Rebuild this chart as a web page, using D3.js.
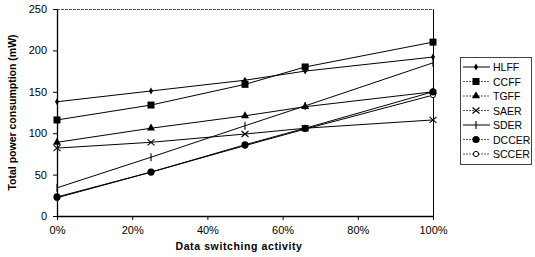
<!DOCTYPE html>
<html lang="en">
<head>
<meta charset="UTF-8">
<title>Power consumption</title>
<script src="https://cdn.jsdelivr.net/npm/d3@7"></script>
<style>
  body { margin: 0; background: #fff; }
  text { font-family: Arial, "Liberation Sans", sans-serif; }
</style>
</head>
<body>
<script>
// data switching activity (%)
var activity = [0, 25, 50, 66, 100];
var seriesNames = ["HLFF", "CCFF", "TGFF", "SAER", "SDER", "DCCER", "SCCER"];
var hlff  = [138, 151, 164, 175, 192];
var ccff  = [116, 134, 159, 180, 210];
var tgff  = [89, 106, 121, 132, 150];
var saer  = [82, 89, 99, 106, 116];
var sder  = [34, 71, 109, 133, 185];
var dccer = [23, 53, 86, 106, 150];
var sccer = [22, 53, 85, 105, 146];
var xTicks = [0, 20, 40, 60, 80, 100];
var yTicks = [0, 50, 100, 150, 200, 250];

var allValues = [hlff, ccff, tgff, saer, sder, dccer, sccer];
var markers = ["diamond", "square", "triangle", "x", "plus", "dot", "circle"];

var width = 535, height = 257;
var plotLeft = 57, plotRight = 433, plotTop = 9, plotBottom = 216;

var svg = d3.select("body").append("svg")
    .attr("width", width)
    .attr("height", height);

var x = d3.scaleLinear().domain([0, 100]).range([plotLeft, plotRight]);
var y = d3.scaleLinear().domain([0, 250]).range([plotBottom, plotTop]);

// frame: dotted top, solid right
svg.append("line")
    .attr("x1", plotLeft).attr("x2", plotRight).attr("y1", plotTop + 0.5).attr("y2", plotTop + 0.5)
    .attr("stroke", "#555").attr("stroke-dasharray", "3,1");
svg.append("line")
    .attr("x1", plotRight + 0.5).attr("x2", plotRight + 0.5).attr("y1", plotTop).attr("y2", plotBottom)
    .attr("stroke", "#000");

var xAxis = d3.axisBottom(x).tickValues(xTicks)
    .tickFormat(function (d) { return d + "%"; })
    .tickSize(4).tickPadding(6);
var yAxis = d3.axisLeft(y).tickValues(yTicks).tickSize(4).tickPadding(6);

var gx = svg.append("g")
    .attr("transform", "translate(0," + plotBottom + ")")
    .call(xAxis);
var gy = svg.append("g")
    .attr("transform", "translate(" + plotLeft + ",0)")
    .call(yAxis);
[gx, gy].forEach(function (g) {
  g.select(".domain").attr("stroke", "#000").attr("stroke-width", 1.3);
  g.selectAll(".tick line").attr("stroke", "#000");
  g.selectAll("text").attr("font-size", 11).attr("fill", "#000")
      .attr("font-family", "Arial, 'Liberation Sans', sans-serif");
});
gy.select(".domain").attr("d", "M0.5," + (plotBottom + 0.5) + "V" + (plotTop + 0.5));
gx.select(".domain").attr("d", "M" + (plotLeft + 0.5) + ",0.5H" + (plotRight + 0.5));

svg.append("text")
    .attr("x", (plotLeft + plotRight) / 2 - 6).attr("y", 250)
    .attr("text-anchor", "middle")
    .attr("font-size", 10.5).attr("font-weight", "bold")
    .attr("letter-spacing", 0.6)
    .text("Data switching activity");

svg.append("text")
    .attr("transform", "translate(16," + ((plotTop + plotBottom) / 2) + ") rotate(-90)")
    .attr("text-anchor", "middle")
    .attr("font-size", 10.5).attr("font-weight", "bold")
    .text("Total power consumption (mW)");

var line = d3.line()
    .x(function (d, i) { return x(activity[i]); })
    .y(function (d) { return y(d); });

function drawMarker(g, kind, cx, cy) {
  if (kind === "diamond") {
    g.append("path").attr("d", d3.symbol(d3.symbolDiamond, 14)())
      .attr("transform", "translate(" + cx + "," + cy + ")").attr("fill", "#000");
  } else if (kind === "square") {
    g.append("rect").attr("x", cx - 3.5).attr("y", cy - 3.5)
      .attr("width", 7).attr("height", 7).attr("fill", "#000");
  } else if (kind === "triangle") {
    g.append("path").attr("d", d3.symbol(d3.symbolTriangle, 28)())
      .attr("transform", "translate(" + cx + "," + cy + ")").attr("fill", "#000");
  } else if (kind === "x") {
    g.append("path").attr("d", "M" + (cx - 3.5) + "," + (cy - 3) + "L" + (cx + 3.5) + "," + (cy + 3)
        + "M" + (cx - 3.5) + "," + (cy + 3) + "L" + (cx + 3.5) + "," + (cy - 3))
      .attr("stroke", "#000").attr("stroke-width", 1.1);
  } else if (kind === "plus") {
    g.append("path").attr("d", "M" + cx + "," + (cy - 4) + "V" + (cy + 4))
      .attr("stroke", "#000").attr("stroke-width", 1.1);
  } else if (kind === "dot") {
    g.append("circle").attr("cx", cx).attr("cy", cy).attr("r", 3.6).attr("fill", "#000");
  } else if (kind === "circle") {
    g.append("circle").attr("cx", cx).attr("cy", cy).attr("r", 2.6)
      .attr("fill", "#fff").attr("stroke", "#000").attr("stroke-width", 1);
  }
}

var plot = svg.append("g");
allValues.forEach(function (vals, s) {
  plot.append("path")
      .attr("d", line(vals))
      .attr("fill", "none")
      .attr("stroke", "#000")
      .attr("stroke-width", 1);
});
// open circles (SCCER) go under the filled dots (DCCER)
var drawOrder = [0, 1, 2, 3, 4, 6, 5];
drawOrder.forEach(function (s) {
  var g = plot.append("g");
  allValues[s].forEach(function (v, i) {
    drawMarker(g, markers[s], x(activity[i]), y(v));
  });
});

// legend
var legend = svg.append("g");
var lx = 460, ly = 57, lstep = 14.5;
legend.append("rect")
    .attr("x", lx + 0.5).attr("y", ly + 0.5)
    .attr("width", 71).attr("height", 107)
    .attr("fill", "#fff").attr("stroke", "#444");
seriesNames.forEach(function (name, i) {
  var yy = ly + 10 + i * lstep;
  legend.append("line")
      .attr("x1", lx + 3).attr("x2", lx + 30)
      .attr("y1", yy).attr("y2", yy)
      .attr("stroke", i === 0 || i === 4 ? "#000" : "#555").attr("stroke-width", 1)
      .attr("stroke-dasharray", i === 0 || i === 4 ? null : "2,1");
  drawMarker(legend, markers[i], lx + 16, yy);
  legend.append("text")
      .attr("x", lx + 33).attr("y", yy + 4)
      .attr("font-size", 10.5)
      .text(name);
});
</script>
</body>
</html>
